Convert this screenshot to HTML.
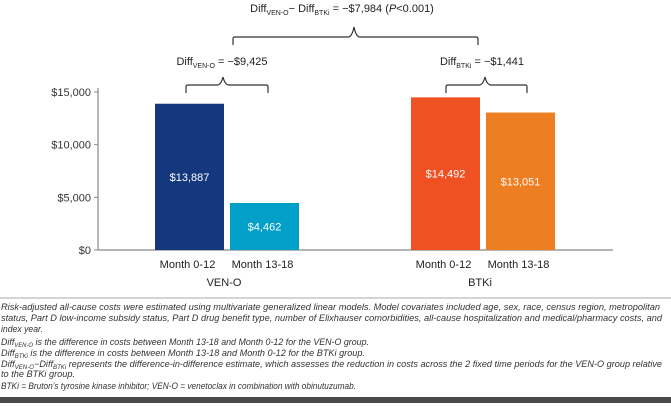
<!DOCTYPE html>
<html><head><meta charset="utf-8"><style>
body{margin:0;background:#fff;}
svg{display:block;font-family:"Liberation Sans",sans-serif;}
</style></head><body>
<svg id="chart" width="671" height="407" viewBox="0 0 671 407" xmlns="http://www.w3.org/2000/svg">
<g id="axes"></g><g id="bars"></g><g id="ann"></g><g id="notes"></g>
</svg>
<script>
const categories = ["Month 0-12","Month 13-18","Month 0-12","Month 13-18"];
const groups = ["VEN-O","BTKi"];
const values = [13887,4462,14492,13051];
const valueLabels = ["$13,887","$4,462","$14,492","$13,051"];
const ticks = [0,5000,10000,15000];
const tickLabels = ["$0","$5,000","$10,000","$15,000"];
const colors = ["#14377e","#02a0c8","#f05123","#ee7e22"];
const NS="http://www.w3.org/2000/svg";
function mk(p,tag,attrs,txt){const e=document.createElementNS(NS,tag);for(const k in attrs)e.setAttribute(k,attrs[k]);if(txt!==undefined)e.textContent=txt;p.appendChild(e);return e;}
const y0=250,yTop=92;
function y(v){return y0-(v/15000)*(y0-yTop);}
const barX=[155,230,411,486],bw=69;
const axes=document.getElementById('axes');
const ax=mk(axes,'line',{x1:98,y1:88,x2:98,y2:250,stroke:'#888','stroke-width':1.2});


const bl=mk(axes,'line',{x1:98,y1:250,x2:613,y2:250,stroke:'#888','stroke-width':1.2});


ticks.forEach((t,i)=>{
 const tk=mk(axes,'line',{x1:94,x2:98,y1:y(t),y2:y(t),stroke:'#888'});
 
 
 const tl=mk(axes,'text',{x:91,y:y(t)+4,'text-anchor':'end','font-size':11,fill:'#333'},tickLabels[i]);
 
 
});
const bars=document.getElementById('bars');
values.forEach((v,i)=>{
 const r=mk(bars,'rect',{x:barX[i],y:y(v),width:bw,height:y0-y(v),fill:colors[i]});
 
 
 const t=mk(bars,'text',{x:barX[i]+bw/2,y:(y(v)+y0)/2+4,'text-anchor':'middle','font-size':11,fill:'#fff'},valueLabels[i]);
 
 
 const c=mk(bars,'text',{x:barX[i]+bw/2-2,y:268,'text-anchor':'middle','font-size':11,fill:'#222'},categories[i]);
 
 
});
groups.forEach((g,i)=>{
 const gx=(barX[i*2]+barX[i*2+1]+bw)/2-3;
 const t=mk(bars,'text',{x:gx,y:286,'text-anchor':'middle','font-size':11,fill:'#222'},g);
 
 
});
const ann=document.getElementById('ann');
function brace(x1,x2,xm,yb,yt,yp,name){
 const p=mk(ann,'path',{d:`M${x1},${yb} L${x1},${yt+2} Q${x1},${yt} ${x1+2},${yt} L${xm-6},${yt} Q${xm-2},${yt} ${xm},${yp} Q${xm+2},${yt} ${xm+6},${yt} L${x2-2},${yt} Q${x2},${yt} ${x2},${yt+2} L${x2},${yb}`,fill:'none',stroke:'#333','stroke-width':1.2});
 
 
}
brace(186,268,223,93,85,77,'ven-o-brace');
brace(446,527,485,93,85,77,'btki-brace');
brace(233,478,354,45,37,27,'diff-in-diff-brace');
function lbl(x,yy,html,name){const t=mk(ann,'text',{x:x,y:yy,'text-anchor':'middle','font-size':11,fill:'#222'});t.innerHTML=html;}
lbl(222,65,'Diff<tspan font-size="7" dy="3">VEN-O</tspan><tspan dy="-3"> = −$9,425</tspan>','ven-o-diff-label');
lbl(482,65,'Diff<tspan font-size="7" dy="3">BTKi</tspan><tspan dy="-3"> = −$1,441</tspan>','btki-diff-label');
lbl(342,12,'Diff<tspan font-size="7" dy="3">VEN-O</tspan><tspan dy="-3">− Diff</tspan><tspan font-size="7" dy="3">BTKi</tspan><tspan dy="-3"> = −$7,984 (</tspan><tspan font-style="italic">P</tspan>&lt;0.001)','diff-in-diff-label');
const notes=document.getElementById('notes');
const sep=mk(notes,'line',{x1:0,x2:671,y1:298,y2:298,stroke:'#aaa','stroke-width':1});


const lines=[
 [310,659,'Risk-adjusted all-cause costs were estimated using multivariate generalized linear models. Model covariates included age, sex, race, census region, metropolitan'],
 [321,661,'status, Part D low-income subsidy status, Part D drug benefit type, number of Elixhauser comorbidities, all-cause hospitalization and medical/pharmacy costs, and'],
 [332,42,'index year.'],
 [345,368,'Diff<tspan font-size="6" dy="2">VEN-O</tspan><tspan dy="-2"> is the difference in costs between Month 13-18 and Month 0-12 for the VEN-O group.</tspan>'],
 [356,364,'Diff<tspan font-size="6" dy="2">BTKi</tspan><tspan dy="-2"> is the difference in costs between Month 13-18 and Month 0-12 for the BTKi group.</tspan>'],
 [367,661,'Diff<tspan font-size="6" dy="2">VEN-O</tspan><tspan dy="-2">−Diff</tspan><tspan font-size="6" dy="2">BTKi</tspan><tspan dy="-2"> represents the difference-in-difference estimate, which assesses the reduction in costs across the 2 fixed time periods for the VEN-O group relative</tspan>'],
 [377,74,'to the BTKi group.'],
 [389,355,'BTKi = Bruton’s tyrosine kinase inhibitor; VEN-O = venetoclax in combination with obinutuzumab.']
];
lines.forEach(l=>{
 const t=mk(notes,'text',{x:1,y:l[0],'font-size':9,'font-style':'italic',fill:'#333',textLength:l[1],lengthAdjust:'spacingAndGlyphs'});
 t.innerHTML=l[2];
 
 
});
const bb=mk(notes,'rect',{x:0,y:397,width:671,height:6,fill:'#4a4a4a'});


</script>
</body></html>
